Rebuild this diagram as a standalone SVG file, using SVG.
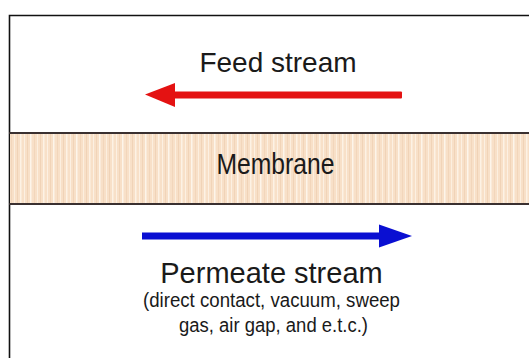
<svg xmlns="http://www.w3.org/2000/svg" width="529" height="358" viewBox="0 0 529 358">
  <style>
    .lbl { font-family: "Liberation Sans", Arial, sans-serif; fill: #1a1a1a; text-anchor: middle; }
    .frame { fill: none; stroke: #111; stroke-width: 1.6; }
    .edge { stroke: #3a3030; stroke-width: 2; }
  </style>
  <defs>
    <pattern id="fibres" x="0" y="0" width="23" height="10" patternUnits="userSpaceOnUse">
      <rect width="23" height="10" fill="#f8e0c8"/>
      <rect x="1" width="1" height="10" fill="#fcf0e2"/>
      <rect x="4" width="1" height="10" fill="#f1d4b8"/>
      <rect x="7" width="1.5" height="10" fill="#fdf5ea"/>
      <rect x="11" width="1" height="10" fill="#f2d6bb"/>
      <rect x="14" width="1" height="10" fill="#fcefdf"/>
      <rect x="17" width="1" height="10" fill="#f0d3b7"/>
      <rect x="20" width="1.5" height="10" fill="#fdf2e5"/>
    </pattern>
  </defs>

  <rect width="529" height="358" fill="#ffffff"/>

  <!-- outer frame -->
  <path class="frame" d="M9.5,360 V15.5 H535"/>

  <!-- membrane layer -->
  <g id="membrane">
    <rect x="10" y="133" width="525" height="71" fill="url(#fibres)"/>
    <line class="edge" x1="9" y1="133" x2="535" y2="133"/>
    <line class="edge" x1="9" y1="204" x2="535" y2="204"/>
    <text class="lbl" x="275.5" y="174" font-size="29" textLength="118" lengthAdjust="spacingAndGlyphs">Membrane</text>
  </g>

  <g id="feed">
    <text class="lbl" x="278" y="72" font-size="28">Feed stream</text>
  </g>

  <g id="permeate">
    <text class="lbl" x="271.5" y="283" font-size="29">Permeate stream</text>
    <text class="lbl" x="271.5" y="307" font-size="19.5" textLength="257" lengthAdjust="spacingAndGlyphs">(direct contact, vacuum, sweep</text>
    <text class="lbl" x="273.5" y="332" font-size="19.5" textLength="189" lengthAdjust="spacingAndGlyphs">gas, air gap, and e.t.c.)</text>
  </g>

  <!-- flow arrows -->
  <g id="connectors">
    <g id="feed-arrow" fill="#e41212">
      <rect x="172" y="91.5" width="230" height="7" rx="1"/>
      <polygon points="145,94.5 175,83 175,107"/>
    </g>
    <g id="permeate-arrow" fill="#0a0fd2">
      <rect x="142" y="232.5" width="240" height="7"/>
      <polygon points="412,236 379,224.5 379,247.5"/>
    </g>
  </g>
</svg>
